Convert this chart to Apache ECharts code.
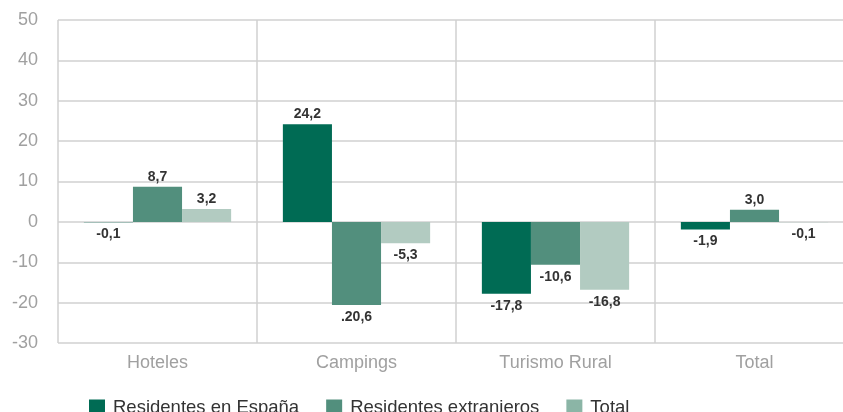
<!DOCTYPE html>
<html>
<head>
<meta charset="utf-8">
<script src="https://cdn.jsdelivr.net/npm/echarts@6/dist/echarts.min.js"></script>
<style>
  html, body { margin: 0; padding: 0; background: #fff; overflow: hidden; }
  /* la rejilla sigue más allá del borde derecho, como en el original */
  #chart { width: 858px; height: 412px; }
</style>
</head>
<body>
<div id="chart"></div>
<script>
// categorías
const categories = ["Hoteles", "Campings", "Turismo Rural", "Total"];

// variaciones (%)
const residentesEspana = [-0.1, 24.2, -17.8, -1.9];
const residentesExtranjeros = [8.7, -20.6, -10.6, 3.0];
const totalValores = [3.2, -5.3, -16.8, -0.1];

// etiquetas tal como aparecen en el gráfico
const etiquetasEspana = ["-0,1", "24,2", "-17,8", "-1,9"];
const etiquetasExtranjeros = ["8,7", ".20,6", "-10,6", "3,0"];
const etiquetasTotal = ["3,2", "-5,3", "-16,8", "-0,1"];

const yTicks = [-30, -20, -10, 0, 10, 20, 30, 40, 50];

const chart = echarts.init(document.getElementById("chart"));

// cada punto con su etiqueta: arriba si es positivo, debajo si es negativo
const buildData = (values, labels) =>
  values.map((v, i) => ({
    value: v,
    label: {
      position: v < 0 ? "bottom" : "top",
      distance: v < 0 ? 5 : 3,
      formatter: labels[i],
    },
  }));

const barLabel = {
  show: true,
  fontFamily: "Liberation Sans",
  fontSize: 14,
  fontWeight: "bold",
  color: "#333",
};

const option = {
  animation: false,
  textStyle: { fontFamily: "Liberation Sans" },
  grid: {
    left: 58,
    top: 20,
    width: 796,
    height: 323,
    containLabel: false,
  },
  legend: {
    left: 84,
    top: 393,
    itemWidth: 16,
    itemHeight: 16,
    itemGap: 27,
    icon: "rect",
    textStyle: { fontSize: 18.5, color: "#333", padding: [0, 0, 0, 3] },
    data: [
      { name: "Residentes en España" },
      { name: "Residentes extranieros" },
      { name: "Total", itemStyle: { color: "#8BB5A6" } },
    ],
  },
  xAxis: {
    type: "category",
    data: categories,
    axisLine: { show: false },
    axisTick: { show: false },
    splitLine: {
      show: true,
      lineStyle: { color: "#d0d0d0", width: 1.5 },
    },
    axisLabel: {
      fontSize: 18,
      color: "#a0a0a0",
      margin: 11,
    },
  },
  yAxis: {
    type: "value",
    min: -30,
    max: 50,
    interval: 10,
    axisLine: { show: false },
    axisTick: { show: false },
    splitLine: { lineStyle: { color: "#d0d0d0", width: 1.5 } },
    axisLabel: {
      fontSize: 18,
      color: "#a0a0a0",
      margin: 20,
      formatter: (v) => (yTicks.includes(v) ? String(v) : ""),
    },
  },
  series: [
    {
      name: "Residentes en España",
      type: "bar",
      barGap: "0%",
      barCategoryGap: "26%",
      itemStyle: { color: "#006B54" },
      label: barLabel,
      data: buildData(residentesEspana, etiquetasEspana),
    },
    {
      name: "Residentes extranieros",
      type: "bar",
      itemStyle: { color: "#528F7D" },
      label: barLabel,
      data: buildData(residentesExtranjeros, etiquetasExtranjeros),
    },
    {
      name: "Total",
      type: "bar",
      itemStyle: { color: "#B2CBC1" },
      label: barLabel,
      data: buildData(totalValores, etiquetasTotal),
    },
  ],
};

chart.setOption(option);
</script>
</body>
</html>
